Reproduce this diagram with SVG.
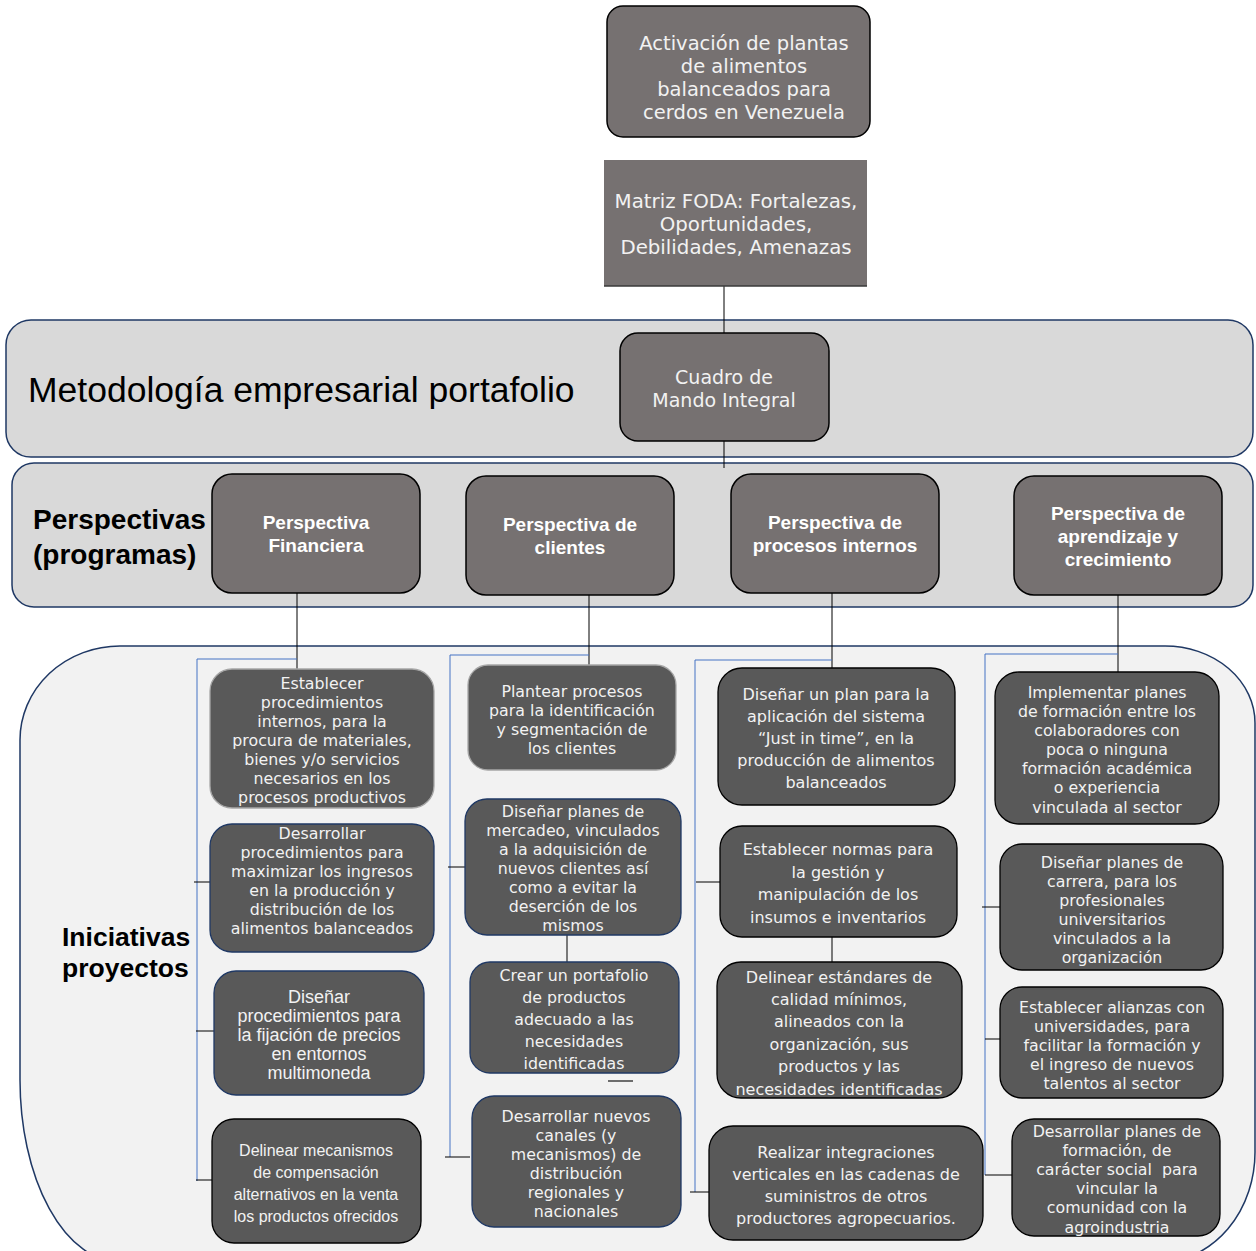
<svg xmlns="http://www.w3.org/2000/svg" width="1256" height="1251" viewBox="0 0 1256 1251">
<style>
.band{fill:#d9d9d9;stroke:#1f3864;stroke-width:1.5}
.top{fill:#767171;stroke:#000;stroke-width:1.5}
.persp{fill:#767171;stroke:#000;stroke-width:1.5}
.ini{fill:#595959;stroke:#000;stroke-width:1.3}
.ini.g{stroke:#a6a6a6}
.ini.n{stroke:#1f3864}
.v{font-family:"DejaVu Sans","Verdana",sans-serif;fill:#f2f2f2;text-anchor:middle}
.a{font-family:"Liberation Sans",Arial,sans-serif;fill:#f2f2f2;text-anchor:middle}
.pb{font-family:"Liberation Sans",Arial,sans-serif;font-weight:bold;fill:#fff;text-anchor:middle;font-size:19px}
.lbl{font-family:"Liberation Sans",Arial,sans-serif;fill:#000}
.bk{stroke:#000;stroke-width:1;fill:none}
.bl{stroke:#4472c4;stroke-width:1;fill:none}
</style>

<!-- background regions -->
<rect class="band" x="6" y="320" width="1247" height="137" rx="25"/>
<rect class="band" x="12" y="463" width="1241" height="144" rx="22"/>
<path d="M20,740 A100,94 0 0 1 120,646 H1165 A90,77 0 0 1 1255,723 V1150 A95,110 0 0 1 1160,1262 H120 A100,182 0 0 1 20,1080 Z" fill="#f2f2f2" stroke="#1f3864" stroke-width="1.5"/>

<text class="lbl" x="28" y="402" font-size="35.5">Metodología empresarial portafolio</text>
<text class="lbl" x="33" y="529" font-size="28" font-weight="bold">Perspectivas</text>
<text class="lbl" x="33" y="564" font-size="28" font-weight="bold">(programas)</text>
<text class="lbl" x="62" y="946" font-size="26.5" font-weight="bold">Iniciativas</text>
<text class="lbl" x="62" y="977" font-size="26.5" font-weight="bold">proyectos</text>

<!-- connectors -->
<g id="connectors">
<line class="bk" x1="724" y1="280" x2="724" y2="333"/>
<line class="bk" x1="724" y1="441" x2="724" y2="468"/>
<line class="bk" x1="297" y1="593" x2="297" y2="683"/>
<line class="bk" x1="589" y1="595" x2="589" y2="665"/>
<line class="bk" x1="832" y1="593" x2="832" y2="683"/>
<line class="bk" x1="1118" y1="595" x2="1118" y2="672"/>
<polyline class="bl" points="297,659 197,659 197,1181"/>
<polyline class="bl" points="589,655 450,655 450,1157"/>
<polyline class="bl" points="832,660 695,660 695,1192"/>
<polyline class="bl" points="1118,654 985,654 985,1175"/>
<line class="bk" x1="194" y1="882" x2="214" y2="882"/>
<line class="bk" x1="196" y1="1031" x2="221" y2="1031"/>
<line class="bk" x1="196" y1="1180" x2="221" y2="1180"/>
<line class="bk" x1="448" y1="867" x2="483" y2="867"/>
<line class="bk" x1="445" y1="1157" x2="470" y2="1157"/>
<line class="bk" x1="567" y1="935" x2="567" y2="963"/>
<line x1="608" y1="1081" x2="633" y2="1081" stroke="#404040" stroke-width="1.5"/>
<line class="bk" x1="696" y1="882" x2="730" y2="882"/>
<line class="bk" x1="690" y1="1192" x2="714" y2="1192"/>
<line class="bk" x1="832" y1="937" x2="832" y2="963"/>
<line class="bk" x1="982" y1="907" x2="1009" y2="907"/>
<line class="bk" x1="985" y1="1039" x2="1018" y2="1039"/>
<line class="bk" x1="985" y1="1175" x2="1018" y2="1175"/>
</g>

<!-- top nodes -->
<g id="activacion">
<rect class="top" x="607" y="6" width="263" height="131" rx="16"/>
<text class="v" font-size="19.5"><tspan x="744" y="50">Activación de plantas</tspan><tspan x="744" y="73">de alimentos</tspan><tspan x="744" y="96">balanceados para</tspan><tspan x="744" y="119">cerdos en Venezuela</tspan></text>
</g>
<g id="foda">
<rect x="604" y="160" width="263" height="126" fill="#767171"/>
<line x1="604" y1="286" x2="867" y2="286" stroke="#3a3a3a" stroke-width="1.5"/>
<text class="v" font-size="19.8"><tspan x="736" y="208">Matriz FODA: Fortalezas,</tspan><tspan x="736" y="231">Oportunidades,</tspan><tspan x="736" y="254">Debilidades, Amenazas</tspan></text>
</g>
<g id="cuadro">
<rect class="top" x="620" y="333" width="209" height="108" rx="18"/>
<text class="v" font-size="19"><tspan x="724" y="384">Cuadro de</tspan><tspan x="724" y="407">Mando Integral</tspan></text>
</g>

<!-- perspectives -->
<g id="p-financiera">
<rect class="persp" x="212" y="474" width="208" height="119" rx="20"/>
<text class="pb"><tspan x="316" y="529">Perspectiva</tspan><tspan x="316" y="552">Financiera</tspan></text>
</g>
<g id="p-clientes">
<rect class="persp" x="466" y="476" width="208" height="119" rx="20"/>
<text class="pb"><tspan x="570" y="531">Perspectiva de</tspan><tspan x="570" y="554">clientes</tspan></text>
</g>
<g id="p-procesos">
<rect class="persp" x="731" y="474" width="208" height="119" rx="20"/>
<text class="pb"><tspan x="835" y="529">Perspectiva de</tspan><tspan x="835" y="552">procesos internos</tspan></text>
</g>
<g id="p-aprendizaje">
<rect class="persp" x="1014" y="476" width="208" height="119" rx="20"/>
<text class="pb"><tspan x="1118" y="520">Perspectiva de</tspan><tspan x="1118" y="543">aprendizaje y</tspan><tspan x="1118" y="566">crecimiento</tspan></text>
</g>

<!-- column 1 -->
<g id="i-1-1">
<rect class="ini g" x="210" y="669" width="224" height="139" rx="22"/>
<text class="v" font-size="15.8"><tspan x="322" y="689">Establecer</tspan><tspan x="322" y="708">procedimientos</tspan><tspan x="322" y="727">internos, para la</tspan><tspan x="322" y="746">procura de materiales,</tspan><tspan x="322" y="765">bienes y/o servicios</tspan><tspan x="322" y="784">necesarios en los</tspan><tspan x="322" y="803">procesos productivos</tspan></text>
</g>
<g id="i-1-2">
<rect class="ini n" x="210" y="824" width="224" height="128" rx="22"/>
<text class="v" font-size="15.8"><tspan x="322" y="839">Desarrollar</tspan><tspan x="322" y="858">procedimientos para</tspan><tspan x="322" y="877">maximizar los ingresos</tspan><tspan x="322" y="896">en la producción y</tspan><tspan x="322" y="915">distribución de los</tspan><tspan x="322" y="934">alimentos balanceados</tspan></text>
</g>
<g id="i-1-3">
<rect class="ini n" x="214" y="971" width="210" height="124" rx="22"/>
<text class="a" font-size="18"><tspan x="319" y="1003">Diseñar</tspan><tspan x="319" y="1022">procedimientos para</tspan><tspan x="319" y="1041">la fijación de precios</tspan><tspan x="319" y="1060">en entornos</tspan><tspan x="319" y="1079">multimoneda</tspan></text>
</g>
<g id="i-1-4">
<rect class="ini" x="212" y="1119" width="209" height="124" rx="22"/>
<text class="a" font-size="16"><tspan x="316" y="1156">Delinear mecanismos</tspan><tspan x="316" y="1178">de compensación</tspan><tspan x="316" y="1200">alternativos en la venta</tspan><tspan x="316" y="1222">los productos ofrecidos</tspan></text>
</g>

<!-- column 2 -->
<g id="i-2-1">
<rect class="ini g" x="468" y="665" width="208" height="105" rx="20"/>
<text class="v" font-size="15.8"><tspan x="572" y="697">Plantear procesos</tspan><tspan x="572" y="716">para la identificación</tspan><tspan x="572" y="735">y segmentación de</tspan><tspan x="572" y="754">los clientes</tspan></text>
</g>
<g id="i-2-2">
<rect class="ini n" x="465" y="799" width="216" height="136" rx="22"/>
<text class="v" font-size="15.8"><tspan x="573" y="817">Diseñar planes de</tspan><tspan x="573" y="836">mercadeo, vinculados</tspan><tspan x="573" y="855">a la adquisición de</tspan><tspan x="573" y="874">nuevos clientes así</tspan><tspan x="573" y="893">como a evitar la</tspan><tspan x="573" y="912">deserción de los</tspan><tspan x="573" y="931">mismos</tspan></text>
</g>
<g id="i-2-3">
<rect class="ini n" x="470" y="962" width="209" height="111" rx="20"/>
<text class="v" font-size="15.8"><tspan x="574" y="981">Crear un portafolio</tspan><tspan x="574" y="1003">de productos</tspan><tspan x="574" y="1025">adecuado a las</tspan><tspan x="574" y="1047">necesidades</tspan><tspan x="574" y="1069">identificadas</tspan></text>
</g>
<g id="i-2-4">
<rect class="ini n" x="472" y="1096" width="209" height="131" rx="22"/>
<text class="v" font-size="15.8"><tspan x="576" y="1122">Desarrollar nuevos</tspan><tspan x="576" y="1141">canales (y</tspan><tspan x="576" y="1160">mecanismos) de</tspan><tspan x="576" y="1179">distribución</tspan><tspan x="576" y="1198">regionales y</tspan><tspan x="576" y="1217">nacionales</tspan></text>
</g>

<!-- column 3 -->
<g id="i-3-1">
<rect class="ini" x="718" y="668" width="237" height="137" rx="24"/>
<text class="v" font-size="16"><tspan x="836" y="700">Diseñar un plan para la</tspan><tspan x="836" y="722">aplicación del sistema</tspan><tspan x="836" y="744">“Just in time”, en la</tspan><tspan x="836" y="766">producción de alimentos</tspan><tspan x="836" y="788">balanceados</tspan></text>
</g>
<g id="i-3-2">
<rect class="ini" x="720" y="826" width="237" height="111" rx="22"/>
<text class="v" font-size="16"><tspan x="838" y="855">Establecer normas para</tspan><tspan x="838" y="878">la gestión y</tspan><tspan x="838" y="900">manipulación de los</tspan><tspan x="838" y="923">insumos e inventarios</tspan></text>
</g>
<g id="i-3-3">
<rect class="ini" x="717" y="962" width="245" height="136" rx="24"/>
<text class="v" font-size="16"><tspan x="839" y="983">Delinear estándares de</tspan><tspan x="839" y="1005">calidad mínimos,</tspan><tspan x="839" y="1027">alineados con la</tspan><tspan x="839" y="1050">organización, sus</tspan><tspan x="839" y="1072">productos y las</tspan><tspan x="839" y="1095">necesidades identificadas</tspan></text>
</g>
<g id="i-3-4">
<rect class="ini" x="709" y="1126" width="274" height="114" rx="24"/>
<text class="v" font-size="16"><tspan x="846" y="1158">Realizar integraciones</tspan><tspan x="846" y="1180">verticales en las cadenas de</tspan><tspan x="846" y="1202">suministros de otros</tspan><tspan x="846" y="1224">productores agropecuarios.</tspan></text>
</g>

<!-- column 4 -->
<g id="i-4-1">
<rect class="ini" x="995" y="672" width="224" height="152" rx="24"/>
<text class="v" font-size="15.8"><tspan x="1107" y="698">Implementar planes</tspan><tspan x="1107" y="717">de formación entre los</tspan><tspan x="1107" y="736">colaboradores con</tspan><tspan x="1107" y="755">poca o ninguna</tspan><tspan x="1107" y="774">formación académica</tspan><tspan x="1107" y="793">o experiencia</tspan><tspan x="1107" y="813">vinculada al sector</tspan></text>
</g>
<g id="i-4-2">
<rect class="ini" x="1000" y="844" width="223" height="126" rx="22"/>
<text class="v" font-size="15.8"><tspan x="1112" y="868">Diseñar planes de</tspan><tspan x="1112" y="887">carrera, para los</tspan><tspan x="1112" y="906">profesionales</tspan><tspan x="1112" y="925">universitarios</tspan><tspan x="1112" y="944">vinculados a la</tspan><tspan x="1112" y="963">organización</tspan></text>
</g>
<g id="i-4-3">
<rect class="ini" x="1000" y="987" width="223" height="111" rx="22"/>
<text class="v" font-size="15.8"><tspan x="1112" y="1013">Establecer alianzas con</tspan><tspan x="1112" y="1032">universidades, para</tspan><tspan x="1112" y="1051">facilitar la formación y</tspan><tspan x="1112" y="1070">el ingreso de nuevos</tspan><tspan x="1112" y="1089">talentos al sector</tspan></text>
</g>
<g id="i-4-4">
<rect class="ini" x="1012" y="1119" width="208" height="117" rx="22"/>
<text class="v" font-size="15.8"><tspan x="1117" y="1137">Desarrollar planes de</tspan><tspan x="1117" y="1156">formación, de</tspan><tspan x="1117" y="1175" xml:space="preserve">carácter social  para</tspan><tspan x="1117" y="1194">vincular la</tspan><tspan x="1117" y="1213">comunidad con la</tspan><tspan x="1117" y="1233">agroindustria</tspan></text>
</g>
</svg>
